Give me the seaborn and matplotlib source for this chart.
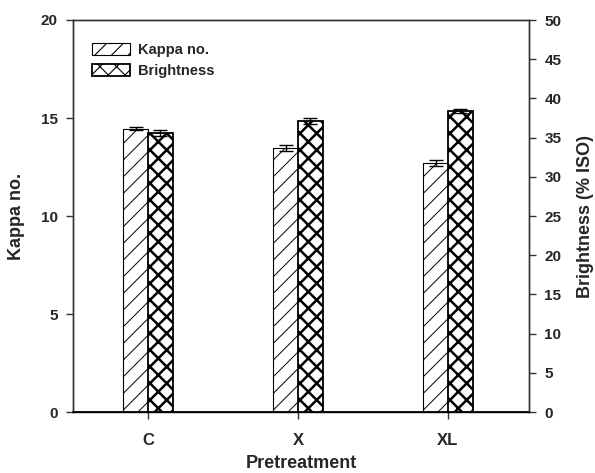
import matplotlib
matplotlib.use("Agg")
import matplotlib.pyplot as plt
import seaborn as sns
import pandas as pd
import numpy as np

categories = ["C", "X", "XL"]
kappa = [14.45, 13.45, 12.7]
kappa_err = [0.08, 0.15, 0.15]
brightness = [35.6, 37.1, 38.4]
brightness_err = [0.35, 0.35, 0.25]
series = ["Kappa no.", "Brightness"]

sns.set_style("ticks")
plt.rcParams["font.family"] = ["Liberation Sans", "DejaVu Sans"]
plt.rcParams["font.weight"] = "bold"
plt.rcParams["hatch.linewidth"] = 0.8

df = pd.DataFrame({
    "Pretreatment": categories * 2,
    "series": [series[0]] * 3 + [series[1]] * 3,
    "kappa": kappa + [np.nan] * 3,
    "bright": [np.nan] * 3 + brightness,
})

fig = plt.figure(figsize=(5.95, 4.73), dpi=100)
ax = fig.add_axes([73 / 595, 61 / 473, 456 / 595, 392 / 473])
ax2 = ax.twinx()

sns.barplot(data=df, x="Pretreatment", y="kappa", hue="series", hue_order=series,
            order=categories, ax=ax, width=0.33, errorbar=None, legend=False,
            facecolor="white", edgecolor="black", linewidth=0.8)
sns.barplot(data=df, x="Pretreatment", y="bright", hue="series", hue_order=series,
            order=categories, ax=ax2, width=0.33, errorbar=None, legend=False,
            facecolor="white", edgecolor="black", linewidth=1.3)

kp = [p for p in ax.patches if p.get_height() > 0]
bp = [p for p in ax2.patches if p.get_height() > 0]
for p in kp:
    p.set_facecolor("white"); p.set_edgecolor("black"); p.set_hatch("//")
    try:
        p.set_hatch_linewidth(0.7)
    except Exception:
        pass
for p in bp:
    p.set_facecolor("white"); p.set_edgecolor("black"); p.set_hatch("xx")
    try:
        p.set_hatch_linewidth(1.8)
    except Exception:
        pass

kx = [p.get_x() + p.get_width() / 2 for p in kp]
bx = [p.get_x() + p.get_width() / 2 for p in bp]
ax.errorbar(kx, kappa, yerr=kappa_err, fmt="none", ecolor="black", elinewidth=1, capsize=5, capthick=1)
ax2.errorbar(bx, brightness, yerr=brightness_err, fmt="none", ecolor="black", elinewidth=1, capsize=5, capthick=1)

ax.set_xlim(-0.5, 2.54)
ax.set_ylim(0, 20)
ax2.set_ylim(0, 50)
ax.set_yticks(np.arange(0, 21, 5))
ax2.set_yticks(np.arange(0, 51, 5))

ax.set_xlabel("Pretreatment", fontsize=13, fontweight="bold", labelpad=5)
ax.set_ylabel("Kappa no.", fontsize=13, fontweight="bold", labelpad=11)
ax2.set_ylabel("Brightness (% ISO)", fontsize=13, fontweight="bold", labelpad=11)
ax.tick_params(axis="x", length=5, labelsize=12, pad=10, width=1, color="#333333")
ax.tick_params(axis="y", length=5, labelsize=11, pad=6, width=1, color="#333333")
ax2.tick_params(axis="y", length=5, labelsize=11, pad=6, width=1, color="#333333")
for lab in ax.get_xticklabels() + ax.get_yticklabels() + ax2.get_yticklabels():
    lab.set_fontweight("bold")
for a in (ax, ax2):
    for s in a.spines.values():
        s.set_visible(True)
        s.set_linewidth(1)
        s.set_color("#333333")
ax.spines["bottom"].set_color("black")
ax2.spines["bottom"].set_color("black")
ax.spines["bottom"].set_linewidth(1.3)

from matplotlib.patches import Patch
h1 = Patch(facecolor="white", edgecolor="black", hatch="//", linewidth=0.8)
h2 = Patch(facecolor="white", edgecolor="black", hatch="xx", linewidth=1.3)
leg = ax.legend([h1, h2], series, loc="upper left", bbox_to_anchor=(0.012, 0.975),
                frameon=False, prop={"weight": "bold", "size": 10.5},
                handlelength=2.6, handleheight=0.9, handletextpad=0.6, labelspacing=0.5)

fig.savefig("out.png", dpi=100)
